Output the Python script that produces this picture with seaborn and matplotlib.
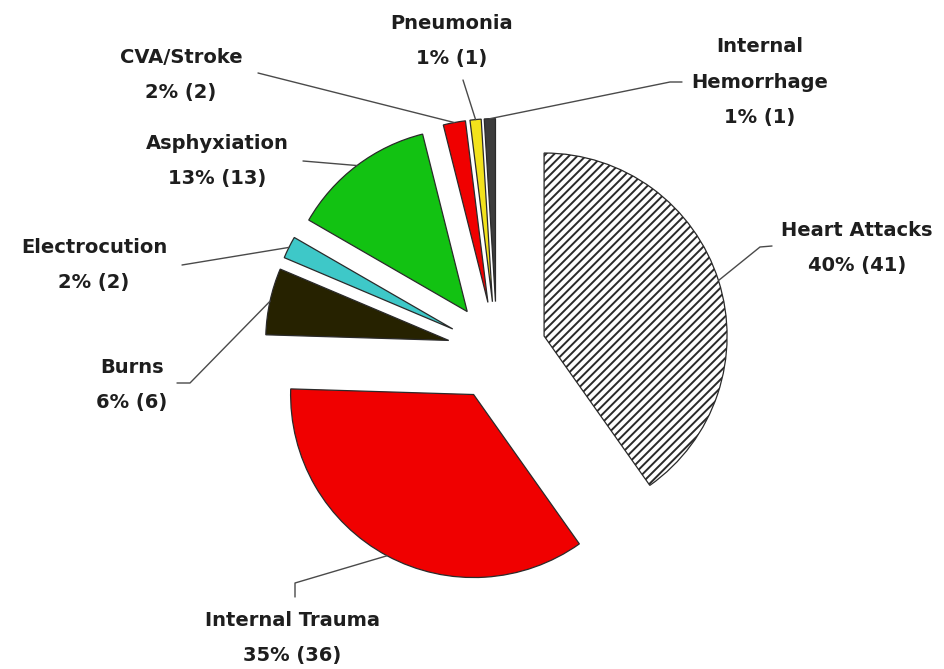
import numpy as np
import matplotlib
matplotlib.use("Agg")
import matplotlib.pyplot as plt
import seaborn as sns

# ---- data ----
categories = ["Heart Attacks", "Internal Trauma", "Burns", "Electrocution",
              "Asphyxiation", "CVA/Stroke", "Pneumonia", "Internal\nHemorrhage"]
counts = [41, 36, 6, 2, 13, 2, 1, 1]
percents = [40, 35, 6, 2, 13, 2, 1, 1]

# ---- style ----
colors = ["#ffffff", "#f00000", "#262200", "#3ec8c8", "#12c212",
          "#f00000", "#f2e21c", "#3c3c3c"]
hatches = ["////", "", "", "", "", "", "", ""]

sns.set_theme(style="white")
plt.rcParams['font.family'] = ['DejaVu Sans']
plt.rcParams['hatch.linewidth'] = 1.4

W, H = 944, 669
fig = plt.figure(figsize=(W / 100, H / 100), dpi=100)
ax = fig.add_axes([0, 0, 1, 1])

S, CX, CY = 183.0, 497.0, 351.0  # pixel scale of unit radius and pie centre


def P(px, py):
    return ((px - CX) / S, (CY - py) / S)


explode = [0.27] * len(counts)
wedges, _ = ax.pie(counts, colors=colors, explode=explode, startangle=90,
                   counterclock=False, radius=1.0,
                   wedgeprops=dict(edgecolor="#2a2a2a", linewidth=0.9))
for w, h in zip(wedges, hatches):
    if h:
        w.set_hatch(h)

ax.set_xlim(P(0, 0)[0], P(W, 0)[0])
ax.set_ylim(P(0, H)[1], P(0, 0)[1])
ax.set_aspect('auto')
ax.axis('off')

# label layout (pixel positions)
text_pos = [(857, 248), (292, 638), (132, 385), (94, 265),
            (217, 161), (181, 75), (452, 41), (760, 82)]
leader_pts = [[(760, 247), (772, 246)],
              [(295, 583), (295, 597)],
              [(190, 383), (177, 383)],
              [(182, 265)],
              [(303, 161)],
              [(258, 73)],
              [(463, 80)],
              [(670, 82), (682, 82)]]

for i, w in enumerate(wedges):
    mid = np.deg2rad((w.theta1 + w.theta2) / 2)
    cx, cy = w.center
    ax_pt = (cx + w.r * np.cos(mid), cy + w.r * np.sin(mid))
    pts = [ax_pt] + [P(*p) for p in leader_pts[i]]
    xs, ys = zip(*pts)
    ax.plot(xs, ys, color="#4a4a4a", lw=1.0, zorder=1)
    label = f"{categories[i]}\n{percents[i]}% ({counts[i]})"
    tx, ty = P(*text_pos[i])
    ax.text(tx, ty, label, ha="center", va="center", multialignment="center",
            fontsize=14, fontweight="bold", color="#1e1e1e", linespacing=2.1)

fig.savefig("out.png", dpi=100, facecolor="white")
